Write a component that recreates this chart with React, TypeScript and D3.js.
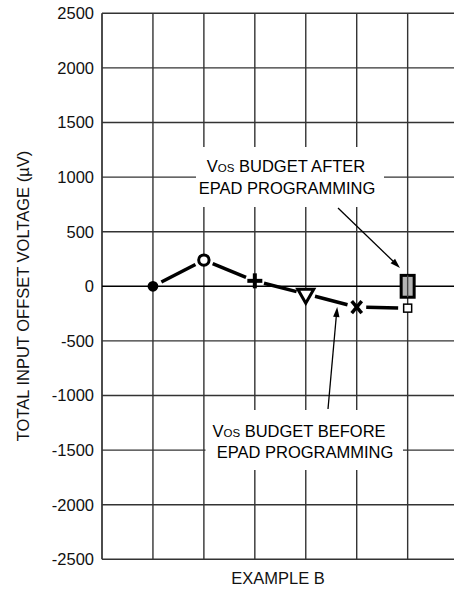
import React from "react";
import * as d3 from "d3";

const categories = [1, 2, 3, 4, 5, 6];
const markerTypes = ["dot", "ring", "plus", "triangle", "cross", "square"];
const beforeValues = [0, 240, 50, -70, -190, -200];
const afterLow = [-100];
const afterHigh = [100];
const afterCategory = [6];
const yTicks = [2500, 2000, 1500, 1000, 500, 0, -500, -1000, -1500, -2000, -2500];
const xGrid = [0, 1, 2, 3, 4, 5, 6, 7];
const yTitle = "TOTAL INPUT OFFSET VOLTAGE (\u00B5V)";
const xTitle = "EXAMPLE B";

const W = 454;
const H = 591;
const FONT = "'Liberation Sans', Arial, Helvetica, sans-serif";

export default function App() {
  const x = d3.scaleLinear().domain([0, 7]).range([102, 458.6]);
  const y = d3.scaleLinear().domain([-2500, 2500]).range([559.3, 13.3]);

  const pts = categories.map((c, i) => ({ x: x(c), y: y(beforeValues[i]), t: markerTypes[i] }));
  const gap = 9.5;
  const segs = pts.slice(0, -1).map((p, i) => {
    const q = pts[i + 1];
    const dx = q.x - p.x, dy = q.y - p.y;
    const L = Math.hypot(dx, dy);
    const ux = dx / L, uy = dy / L;
    return { x1: p.x + ux * gap, y1: p.y + uy * gap, x2: q.x - ux * gap, y2: q.y - uy * gap };
  });
  const lineGen = d3.line<{ x: number; y: number }>().x((d) => d.x).y((d) => d.y);

  const marker = (p: { x: number; y: number; t: string }, i: number) => {
    switch (p.t) {
      case "dot":
        return <circle key={i} cx={p.x} cy={p.y} r={5.4} fill="#000" />;
      case "ring":
        return <circle key={i} cx={p.x} cy={p.y} r={5.2} fill="#fff" stroke="#000" strokeWidth={3} />;
      case "plus":
        return (
          <g key={i} stroke="#000" strokeWidth={4}>
            <line x1={p.x - 7.5} x2={p.x + 7.5} y1={p.y} y2={p.y} />
            <line x1={p.x} x2={p.x} y1={p.y - 7.5} y2={p.y + 7.5} />
          </g>
        );
      case "triangle": {
        const sym = d3.symbol().type(d3.symbolTriangle).size(110)();
        return (
          <path key={i} d={sym || ""} transform={`translate(${p.x},${p.y}) rotate(180)`} fill="#fff" stroke="#000" strokeWidth={3} strokeLinejoin="miter" />
        );
      }
      case "cross":
        return (
          <g key={i} stroke="#000" strokeWidth={3.5}>
            <line x1={p.x - 5} x2={p.x + 5} y1={p.y - 6} y2={p.y + 6} />
            <line x1={p.x + 5} x2={p.x - 5} y1={p.y - 6} y2={p.y + 6} />
          </g>
        );
      case "square":
        return <rect key={i} x={p.x - 4} y={p.y - 4} width={8} height={8} fill="#fff" stroke="#000" strokeWidth={1.5} />;
      default:
        return null;
    }
  };

  const arrowHead = (x1: number, y1: number, x2: number, y2: number, len = 10, half = 3.2) => {
    const dx = x2 - x1, dy = y2 - y1;
    const L = Math.hypot(dx, dy);
    const ux = dx / L, uy = dy / L;
    const bx = x2 - ux * len, by = y2 - uy * len;
    return `M${x2},${y2}L${bx - uy * half},${by + ux * half}L${bx + uy * half},${by - ux * half}Z`;
  };

  const afterX = x(afterCategory[0]);
  const yHi = y(afterHigh[0]);
  const yLo = y(afterLow[0]);

  const vosText = (cx: number, by: number, rest: string) => (
    <text x={cx} y={by} textAnchor="middle" fontFamily={FONT} fontSize={16.5} fill="#000">
      V<tspan fontSize={11.5}>OS</tspan>
      {rest}
    </text>
  );

  return (
    <svg width={W} height={H} style={{ position: "absolute", left: 0, top: 0, background: "#fff" }}>
      <rect x={0} y={0} width={W} height={H} fill="#fff" />
      {/* grid */}
      <g stroke="#333" strokeWidth={1.4}>
        {xGrid.map((g) => (
          <line key={"v" + g} x1={x(g)} x2={x(g)} y1={y(2500)} y2={y(-2500)} stroke={g === 0 ? "#000" : "#333"} />
        ))}
        {yTicks.map((t) => (
          <line key={"h" + t} x1={x(0)} x2={x(7)} y1={y(t)} y2={y(t)} stroke={t === 0 ? "#000" : "#333"} />
        ))}
      </g>
      {/* y tick labels */}
      {yTicks.map((t) => (
        <text key={"t" + t} x={94} y={y(t)} dy="0.36em" textAnchor="end" fontFamily={FONT} fontSize={16.5} fill="#111">
          {t}
        </text>
      ))}
      {/* y title */}
      <text transform={`translate(28.5,296) rotate(-90)`} textAnchor="middle" fontFamily={FONT} fontSize={16.5} fill="#111">
        {yTitle}
      </text>
      {/* x title */}
      <text x={278} y={583.5} textAnchor="middle" fontFamily={FONT} fontSize={16.5} fill="#111">
        {xTitle}
      </text>

      {/* label boxes */}
      <rect x={196} y={147} width={188} height={60} fill="#fff" />
      {vosText(286, 172.3, " BUDGET AFTER")}
      <text x={287} y={193.5} textAnchor="middle" fontFamily={FONT} fontSize={16.5} fill="#000">
        EPAD PROGRAMMING
      </text>
      <rect x={205.5} y={410} width={197.5} height={60} fill="#fff" />
      {vosText(299, 436.5, " BUDGET BEFORE")}
      <text x={305} y={458.3} textAnchor="middle" fontFamily={FONT} fontSize={16.5} fill="#000">
        EPAD PROGRAMMING
      </text>

      {/* arrows */}
      <line x1={338} y1={208} x2={395} y2={263} stroke="#000" strokeWidth={1.3} />
      <path d={arrowHead(338, 208, 400, 268)} fill="#000" />
      <line x1={328} y1={409} x2={336.4} y2={315} stroke="#000" strokeWidth={1.3} />
      <path d={arrowHead(328, 409, 337.2, 307)} fill="#000" />

      {/* before series line segments */}
      {segs.map((s, i) => (
        <path key={"s" + i} d={lineGen([{ x: s.x1, y: s.y1 }, { x: s.x2, y: s.y2 }]) || ""} stroke="#000" strokeWidth={3.5} fill="none" />
      ))}
      {/* markers */}
      {pts.map((p, i) => marker(p, i))}

      {/* after budget box */}
      <rect x={afterX - 6.5} y={yHi} width={13} height={yLo - yHi} fill="#b4b4b4" stroke="#000" strokeWidth={3} />
      <line x1={afterX} x2={afterX} y1={yHi} y2={yLo} stroke="#444" strokeWidth={1.4} />
    </svg>
  );
}
